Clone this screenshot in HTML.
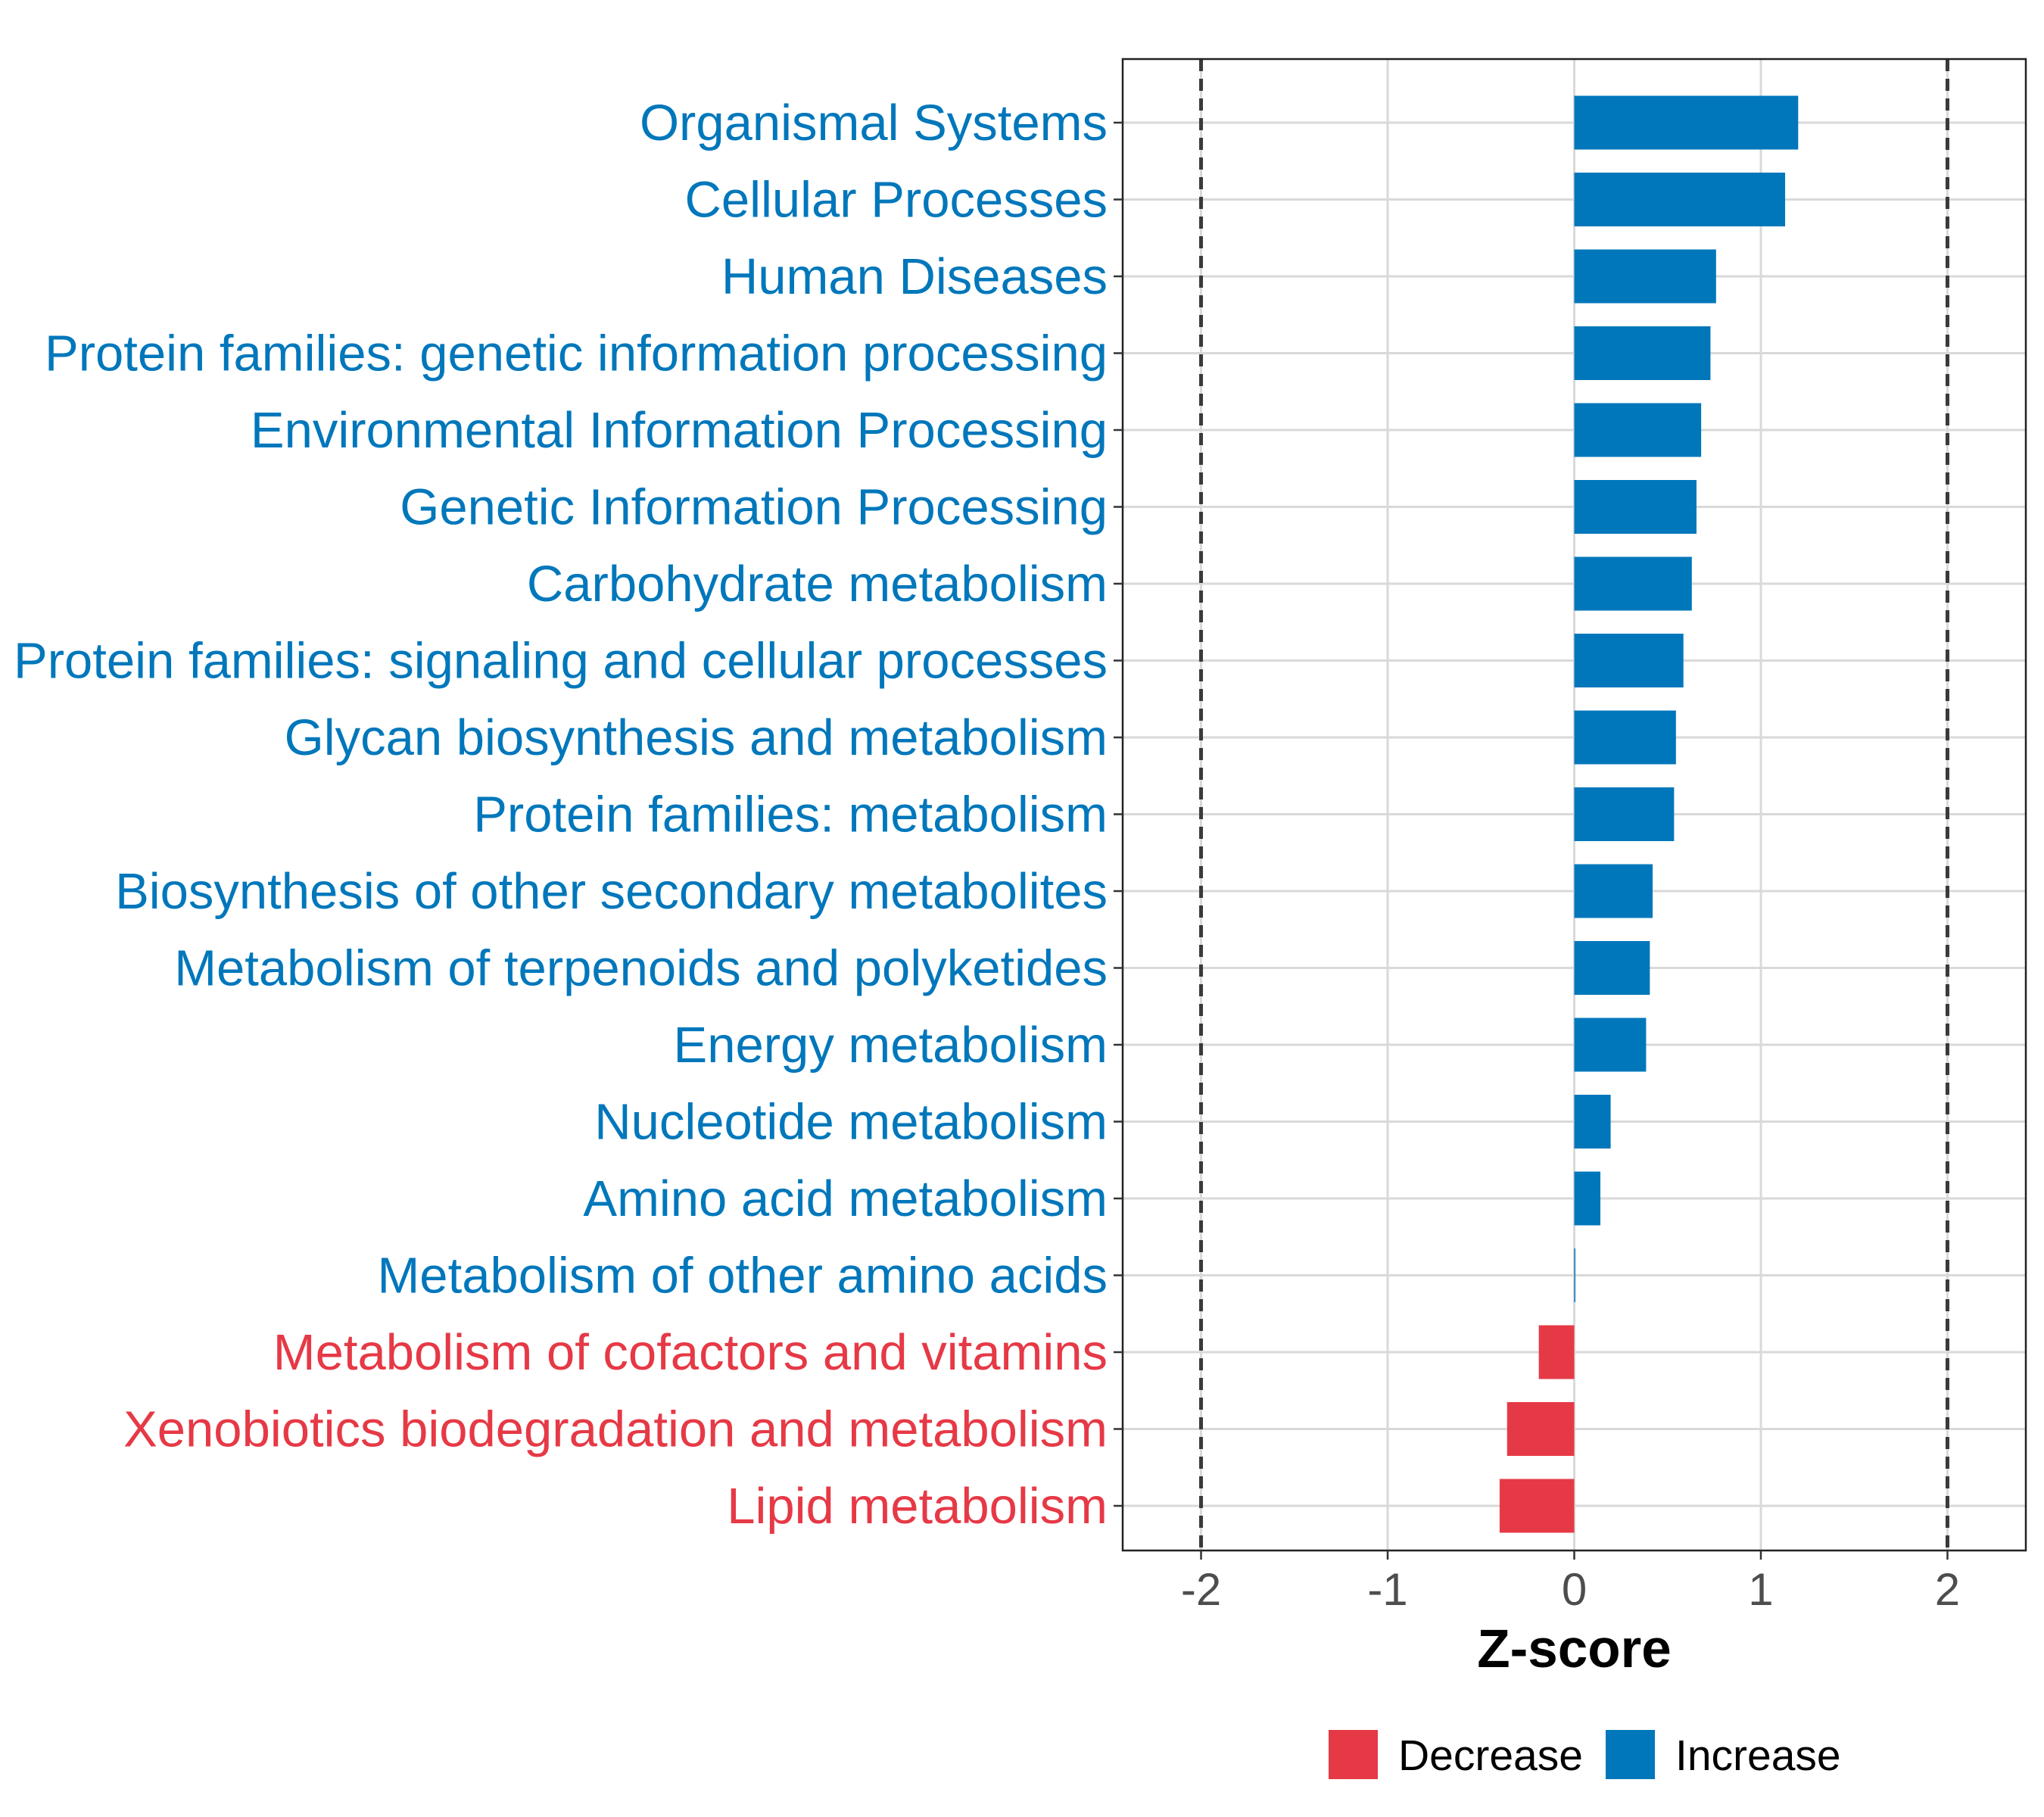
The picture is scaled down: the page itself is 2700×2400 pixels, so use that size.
<!DOCTYPE html>
<html><head><meta charset="utf-8"><style>
html,body{margin:0;padding:0;background:#fff;}
svg{display:block;font-family:"Liberation Sans",Arial,sans-serif;}
</style></head><body>
<svg id="chart" width="2700" height="2400" viewBox="0 0 2700 2400" xmlns="http://www.w3.org/2000/svg"></svg>
<script>
const categories = ["Organismal Systems","Cellular Processes","Human Diseases","Protein families: genetic information processing","Environmental Information Processing","Genetic Information Processing","Carbohydrate metabolism","Protein families: signaling and cellular processes","Glycan biosynthesis and metabolism","Protein families: metabolism","Biosynthesis of other secondary metabolites","Metabolism of terpenoids and polyketides","Energy metabolism","Nucleotide metabolism","Amino acid metabolism","Metabolism of other amino acids","Metabolism of cofactors and vitamins","Xenobiotics biodegradation and metabolism","Lipid metabolism"];
const zscores = [1.20,1.13,0.76,0.73,0.68,0.655,0.63,0.585,0.545,0.535,0.42,0.405,0.385,0.195,0.14,0.005,-0.19,-0.36,-0.40];
const xTicks = [-2,-1,0,1,2];
const xTickLabels = ["-2","-1","0","1","2"];
const thresholds = [-2,2];
const legendLabels = ["Decrease","Increase"];

const NS="http://www.w3.org/2000/svg";
const svg=document.getElementById('chart');
const BLUE="#0077BB", RED="#E63946";
const L=1483,R=2676,T=78,B=2048;
const xmin=-2.42,xmax=2.42;
const x=v=>L+(v-xmin)/(xmax-xmin)*(R-L);
const y0=162,step=101.5,barH=71;
const y=i=>y0+i*step;
function el(tag,attrs,parent){const e=document.createElementNS(NS,tag);for(const k in attrs)e.setAttribute(k,attrs[k]);(parent||svg).appendChild(e);return e;}

xTicks.forEach(t=>{
  const g=el('line',{x1:x(t),x2:x(t),y1:T,y2:B,stroke:"#d9d9d9","stroke-width":3});
  
  
});
categories.forEach((c,i)=>{
  const g=el('line',{x1:L,x2:R,y1:y(i),y2:y(i),stroke:"#d9d9d9","stroke-width":3});
  
  
});
zscores.forEach((v,i)=>{
  const x0=x(0),x1=x(v);
  const r=el('rect',{x:Math.min(x0,x1),y:y(i)-barH/2,width:Math.max(Math.abs(x1-x0),1.5),height:barH,fill:v<0?RED:BLUE});
  
  
});
thresholds.forEach(t=>{
  const d=el('line',{x1:x(t),x2:x(t),y1:T,y2:B,stroke:"#3a3a3a","stroke-width":5,"stroke-dasharray":"16,10"});
  
  
});
const pb=el('rect',{x:L,y:T,width:R-L,height:B-T,fill:"none",stroke:"#222","stroke-width":2.5});


categories.forEach((c,i)=>{
  const tk=el('line',{x1:L-12,x2:L,y1:y(i),y2:y(i),stroke:"#333","stroke-width":2.5});
  
  
  const t=el('text',{x:L-20,y:y(i)+23,"text-anchor":"end","font-size":67,fill:zscores[i]<0?RED:BLUE});
  t.textContent=c;
  
  
});
xTicks.forEach((t,i)=>{
  const tk=el('line',{x1:x(t),x2:x(t),y1:B,y2:B+12,stroke:"#333","stroke-width":2.5});
  
  
  const lb=el('text',{x:x(t),y:2120,"text-anchor":"middle","font-size":60,fill:"#4d4d4d"});
  lb.textContent=xTickLabels[i];
  
  
});
const xt=el('text',{x:x(0),y:2202,"text-anchor":"middle","font-size":71,"font-weight":"bold",fill:"#000"});
xt.textContent="Z-score";


const lg=el('g',{});


const keyX=[1755,2121],txtX=[1847,2213],cols=[RED,BLUE];
legendLabels.forEach((lab,i)=>{
  const k=el('rect',{x:keyX[i],y:2285,width:65,height:65,fill:cols[i]},lg);
  
  
  const t=el('text',{x:txtX[i],y:2338,"font-size":57,fill:"#000"},lg);
  t.textContent=lab;
  
  
});
</script>
</body></html>
